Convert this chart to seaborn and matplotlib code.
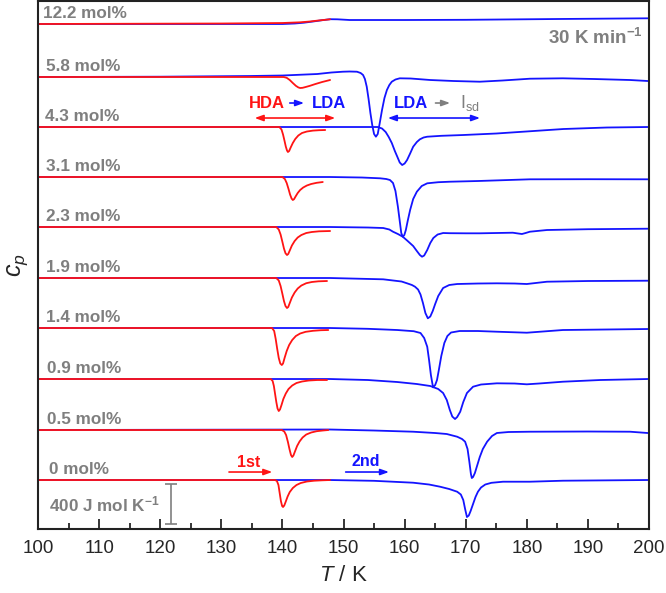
import matplotlib
matplotlib.use("Agg")
import matplotlib.pyplot as plt
import pandas as pd
import seaborn as sns

# concentrations (bottom to top) and vertical offsets of each trace, J mol-1 K-1
labels = ['0 mol%', '0.5 mol%', '0.9 mol%', '1.4 mol%', '1.9 mol%',
          '2.3 mol%', '3.1 mol%', '4.3 mol%', '5.8 mol%', '12.2 mol%']
offsets = [0, 500, 1010, 1520, 2020, 2530, 3030, 3530, 4030, 4560]
label_x = [101.8, 101.5, 101.5, 101.3, 101.3, 101.3, 101.3, 101.1, 101.3, 100.8]

# 1st heating (red)
red_t_00 = [100, 138.8, 139.1, 139.35, 139.55, 139.75, 139.95, 140.1, 140.3, 140.55,
            140.85, 141.2, 141.7, 142.3, 143.0, 144.0, 145.2, 146.5, 147.8]
red_cp_00 = [0, 0, -10, -50, -130, -210, -260, -270, -255, -215,
             -165, -120, -80, -50, -30, -15, -7, -3, 0]
red_t_05 = [100, 139.9, 140.3, 140.6, 140.9, 141.15, 141.4, 141.6, 141.8, 142.05,
            142.4, 142.8, 143.3, 143.9, 144.7, 145.6, 146.6, 147.5]
red_cp_05 = [0, 0, -15, -50, -120, -190, -250, -270, -255, -215,
             -160, -115, -75, -45, -25, -12, -5, 0]
red_t_09 = [100, 138.1, 138.4, 138.6, 138.8, 139.0, 139.2, 139.4, 139.6, 139.85,
            140.15, 140.55, 141.0, 141.6, 142.3, 143.2, 144.3, 145.7, 147.3]
red_cp_09 = [0, 0, -20, -70, -150, -230, -295, -320, -305, -260,
             -200, -145, -100, -65, -40, -25, -15, -10, -10]
red_t_14 = [100, 138.3, 138.65, 138.9, 139.15, 139.4, 139.65, 139.9, 140.1, 140.35,
            140.7, 141.1, 141.6, 142.2, 142.9, 143.8, 145.0, 146.3, 147.5]
red_cp_14 = [0, 0, -30, -110, -210, -300, -355, -370, -355, -300,
             -230, -170, -120, -80, -55, -38, -28, -22, -20]
red_t_19 = [100, 139.0, 139.4, 139.7, 140.0, 140.25, 140.5, 140.75, 140.95, 141.2,
            141.55, 142.0, 142.5, 143.1, 143.9, 144.8, 145.9, 147.3]
red_cp_19 = [0, 0, -25, -80, -160, -230, -280, -300, -290, -250,
             -195, -145, -105, -75, -52, -40, -33, -30]
red_t_23 = [100, 139.0, 139.4, 139.7, 140.0, 140.25, 140.5, 140.75, 140.95, 141.2,
            141.55, 142.0, 142.5, 143.1, 143.9, 144.8, 146.0, 147.8]
red_cp_23 = [0, 0, -25, -75, -150, -215, -262, -280, -270, -235,
             -185, -140, -105, -80, -60, -50, -43, -40]
red_t_31 = [100, 140.0, 140.4, 140.7, 141.0, 141.25, 141.5, 141.7, 141.9, 142.15,
            142.5, 142.9, 143.4, 144.0, 144.7, 145.6, 146.6]
red_cp_31 = [0, 0, -20, -60, -120, -175, -215, -230, -222, -195,
             -160, -130, -105, -85, -70, -58, -50]
red_t_43 = [100, 139.5, 139.85, 140.1, 140.35, 140.55, 140.75, 140.9, 141.1, 141.35,
            141.7, 142.1, 142.6, 143.2, 144.0, 145.0, 146.0, 147.0]
red_cp_43 = [0, 0, -25, -75, -140, -195, -235, -250, -240, -205,
             -160, -120, -85, -60, -45, -36, -32, -30]
red_t_58 = [100, 140.2, 140.7, 141.2, 141.7, 142.2, 142.6, 142.9, 143.3, 143.8,
            144.5, 145.4, 146.5, 147.8]
red_cp_58 = [0, 0, -8, -30, -60, -88, -104, -110, -108, -100,
             -88, -70, -50, -30]
red_t_122 = [100, 130, 140, 142.9, 144.5, 145.6, 146.7, 147.8]
red_cp_122 = [0, 5, 10, 17, 25, 33, 40, 47]

# 2nd heating (blue)
blue_t_00 = [100, 147.8, 155, 161.4, 164, 165.8, 167.3, 168.6, 169.2, 169.6,
             169.9, 170.2, 170.5, 170.8, 171.2, 171.6, 172.0, 172.5, 173.2, 174.2,
             176.1, 180.5, 185.9, 199.8]
blue_cp_00 = [0, 0, -8, -27, -45, -67, -90, -117, -145, -200,
              -290, -370, -355, -310, -240, -170, -117, -75, -45, -28,
              -17, -17, -7, 0]
blue_t_05 = [100, 147.8, 155, 161.4, 165, 166.9, 168.6, 169.4, 169.9, 170.3,
             170.6, 170.85, 171.0, 171.2, 171.5, 171.9, 172.3, 172.8, 173.5, 174.3,
             175.1, 177, 180.5, 190, 196.9, 199.8]
blue_cp_05 = [0, 5, -5, -17, -30, -40, -67, -90, -117, -190,
              -320, -440, -480, -470, -430, -350, -270, -190, -117, -60,
              -30, -20, -17, -15, -17, -30]
blue_t_09 = [100, 147.8, 154, 158.8, 162, 164.2, 165.5, 166.3, 166.9, 167.4,
             167.8, 168.25, 168.6, 169.1, 169.6, 170.2, 171.2, 172.5, 175.1, 178,
             180.0, 182, 185.9, 192, 199.8]
blue_cp_09 = [0, 0, -10, -30, -50, -70, -100, -140, -210, -310,
              -375, -400, -380, -327, -230, -140, -77, -55, -43, -45,
              -53, -45, -27, -10, 0]
blue_t_14 = [100, 147.8, 154, 158.8, 161.5, 162.6, 163.2, 163.7, 164.0, 164.3,
             164.65, 165.0, 165.3, 165.6, 166.0, 166.5, 167.0, 167.6, 169.0, 172,
             175.1, 180.0, 185.9, 199.8]
blue_cp_14 = [0, 0, -8, -20, -32, -50, -100, -187, -320, -470,
              -593, -570, -520, -420, -280, -150, -80, -45, -30, -30,
              -37, -47, -20, -10]
blue_t_19 = [100, 147.8, 156.5, 159.5, 160.4, 161.2, 161.7, 162.2, 162.6, 163.0,
             163.4, 163.8, 164.2, 164.6, 165.0, 165.5, 166.3, 167.3, 168.6, 172,
             175.1, 178, 180.0, 183.3, 190, 199.8]
blue_cp_19 = [0, 0, -13, -35, -53, -70, -87, -115, -165, -250,
              -350, -403, -385, -330, -260, -180, -100, -70, -60, -55,
              -53, -55, -60, -37, -30, -27]
blue_t_23 = [100, 147.8, 154, 156.5, 157.5, 158.1, 158.9, 159.7, 160.5, 161.4,
             162.0, 162.5, 162.85, 163.2, 163.7, 164.2, 164.7, 165.4, 166.3, 167.4,
             170, 172.3, 177.7, 178.6, 179.2, 179.8, 180.5, 183.3, 190, 199.8]
blue_cp_23 = [0, 0, -5, -10, -25, -47, -70, -97, -140, -190,
              -240, -280, -297, -285, -230, -160, -110, -75, -60, -62,
              -63, -63, -57, -65, -70, -60, -47, -30, -22, -17]
blue_t_31 = [100, 147.8, 153, 156.0, 157.0, 157.6, 158.1, 158.5, 158.9, 159.2,
             159.45, 159.7, 159.95, 160.2, 160.5, 160.9, 161.4, 162.0, 162.8, 163.7,
             165.5, 167.4, 172, 180.5, 190, 199.8]
blue_cp_31 = [0, 0, -5, -13, -20, -30, -60, -140, -297, -440,
              -560, -597, -580, -530, -440, -330, -220, -147, -90, -63,
              -52, -47, -40, -23, -22, -23]
blue_t_43 = [100, 147.8, 155.6, 156.3, 156.9, 157.4, 157.9, 158.4, 158.8, 159.2,
             159.6, 160.0, 160.4, 160.9, 161.4, 162.0, 162.5, 163.1, 163.7, 166,
             169.6, 175, 179.4, 186, 193.1, 199.8]
blue_cp_43 = [0, 0, 0, -15, -50, -100, -160, -240, -297, -355,
              -380, -365, -330, -265, -197, -150, -123, -105, -97, -88,
              -80, -65, -47, -20, -5, 0]
blue_t_58 = [100, 120, 134.7, 140, 145.7, 148, 149.9, 151, 152.2, 152.8,
             153.2, 153.5, 153.8, 154.1, 154.4, 154.7, 155.0, 155.3, 155.6, 155.9,
             156.3, 156.7, 157.1, 157.5, 157.9, 158.5, 159.2, 161, 164.2, 168,
             172.3, 176, 180.5, 185.9, 191, 196.9, 199.8]
blue_cp_58 = [0, 3, 10, 15, 30, 45, 53, 55, 53, 40,
              20, -20, -97, -220, -360, -480, -570, -597, -570, -470,
              -330, -210, -130, -80, -47, -25, -13, -15, -30, -40,
              -47, -35, -17, -13, -20, -30, -40]
blue_t_122 = [100, 140, 142, 143.5, 145, 146.5, 147.8, 149, 151, 160, 170, 185, 199.8]
blue_cp_122 = [0, 0, 5, 13, 25, 38, 48, 47, 40, 40, 42, 50, 57]

red_t = [red_t_00, red_t_05, red_t_09, red_t_14, red_t_19, red_t_23, red_t_31, red_t_43, red_t_58, red_t_122]
red_cp = [red_cp_00, red_cp_05, red_cp_09, red_cp_14, red_cp_19, red_cp_23, red_cp_31, red_cp_43, red_cp_58, red_cp_122]
blue_t = [blue_t_00, blue_t_05, blue_t_09, blue_t_14, blue_t_19, blue_t_23, blue_t_31, blue_t_43, blue_t_58, blue_t_122]
blue_cp = [blue_cp_00, blue_cp_05, blue_cp_09, blue_cp_14, blue_cp_19, blue_cp_23, blue_cp_31, blue_cp_43, blue_cp_58, blue_cp_122]

RED = '#ff1414'
BLUE = '#1414ff'
GREY = '#7f7f7f'

sns.set_style('ticks')
plt.rcParams['font.family'] = ['Liberation Sans', 'DejaVu Sans']
plt.rcParams['mathtext.fontset'] = 'custom'
plt.rcParams['mathtext.rm'] = 'Liberation Sans'
plt.rcParams['mathtext.it'] = 'Liberation Sans:italic'
plt.rcParams['mathtext.bf'] = 'Liberation Sans:bold'

fig = plt.figure(figsize=(6.66, 5.93), dpi=100)
ax = fig.add_axes([0.0571, 0.1079, 0.9174, 0.8904])

# blue first so red sits on top
for t, cp, off in zip(blue_t, blue_cp, offsets):
    d = pd.DataFrame({'T': t, 'cp': [c + off for c in cp]})
    sns.lineplot(data=d, x='T', y='cp', ax=ax, color=BLUE, lw=1.3,
                 estimator=None, sort=False, solid_joinstyle='round')
for t, cp, off in zip(red_t, red_cp, offsets):
    d = pd.DataFrame({'T': t, 'cp': [c + off for c in cp]})
    sns.lineplot(data=d, x='T', y='cp', ax=ax, color=RED, lw=1.3,
                 estimator=None, sort=False, solid_joinstyle='round')

for lab, off, lx in zip(labels, offsets, label_x):
    ax.text(lx, off + 60, lab, color=GREY, fontsize=12.3, fontweight='bold',
            ha='left', va='baseline')

ax.set_xlim(100, 200)
ax.set_ylim(-490, 4790)
ax.set_xticks(range(100, 201, 10))
ax.set_xticks(range(105, 200, 10), minor=True)
ax.set_yticks([])
ax.tick_params(axis='x', which='major', direction='in', length=7, width=1.3,
               labelsize=13.5, pad=8, top=False)
ax.tick_params(axis='x', which='minor', direction='in', length=4, width=1.3, top=False)
for s in ax.spines.values():
    s.set_linewidth(1.5)
    s.set_color('#222222')

ax.set_xlabel(r'$T$ / K', fontsize=16, labelpad=6)
ax.set_ylabel(r'$c_p$', fontsize=18, labelpad=6)

# annotations
ax.text(199.0, 4420, r'30 K min$^{\mathbf{-1}}$', color=GREY, fontsize=13.5,
        fontweight='bold', ha='right', va='center')
ax.text(137.4, 3770, 'HDA', color=RED, fontsize=12, fontweight='bold', ha='center', va='center')
ax.text(147.7, 3770, 'LDA', color=BLUE, fontsize=12, fontweight='bold', ha='center', va='center')
ax.annotate('', xy=(144.0, 3770), xytext=(140.75, 3770),
            arrowprops=dict(arrowstyle='-|>,head_length=0.5,head_width=0.18', color=BLUE, lw=1.2))
ax.annotate('', xy=(149.1, 3620), xytext=(135.0, 3620),
            arrowprops=dict(arrowstyle='<|-|>,head_length=0.5,head_width=0.18', color=RED, lw=1.2))
ax.text(161.1, 3770, 'LDA', color=BLUE, fontsize=12, fontweight='bold', ha='center', va='center')
ax.annotate('', xy=(167.9, 3770), xytext=(164.6, 3770),
            arrowprops=dict(arrowstyle='-|>,head_length=0.5,head_width=0.18', color=GREY, lw=1.2))
ax.text(169.1, 3770, r'I$_{\mathregular{sd}}$', color=GREY, fontsize=13, ha='left', va='center')
ax.annotate('', xy=(172.8, 3620), xytext=(156.8, 3620),
            arrowprops=dict(arrowstyle='<|-|>,head_length=0.5,head_width=0.18', color=BLUE, lw=1.2))

ax.text(134.5, 180, '1st', color=RED, fontsize=11.5, fontweight='bold', ha='center', va='center')
ax.annotate('', xy=(138.8, 80), xytext=(130.8, 80),
            arrowprops=dict(arrowstyle='-|>,head_length=0.5,head_width=0.18', color=RED, lw=1.2))
ax.text(153.7, 190, '2nd', color=BLUE, fontsize=11.5, fontweight='bold', ha='center', va='center')
ax.annotate('', xy=(157.9, 80), xytext=(149.9, 80),
            arrowprops=dict(arrowstyle='-|>,head_length=0.5,head_width=0.18', color=BLUE, lw=1.2))

# scale bar
ax.errorbar([121.8], [-240], yerr=[[200], [200]], color=GREY, lw=1.2, capsize=4, capthick=1.2)
ax.text(101.8, -240, r'400 J mol K$^{\mathbf{-1}}$', color=GREY, fontsize=12.3,
        fontweight='bold', ha='left', va='center')

fig.savefig('out.png', dpi=100)
